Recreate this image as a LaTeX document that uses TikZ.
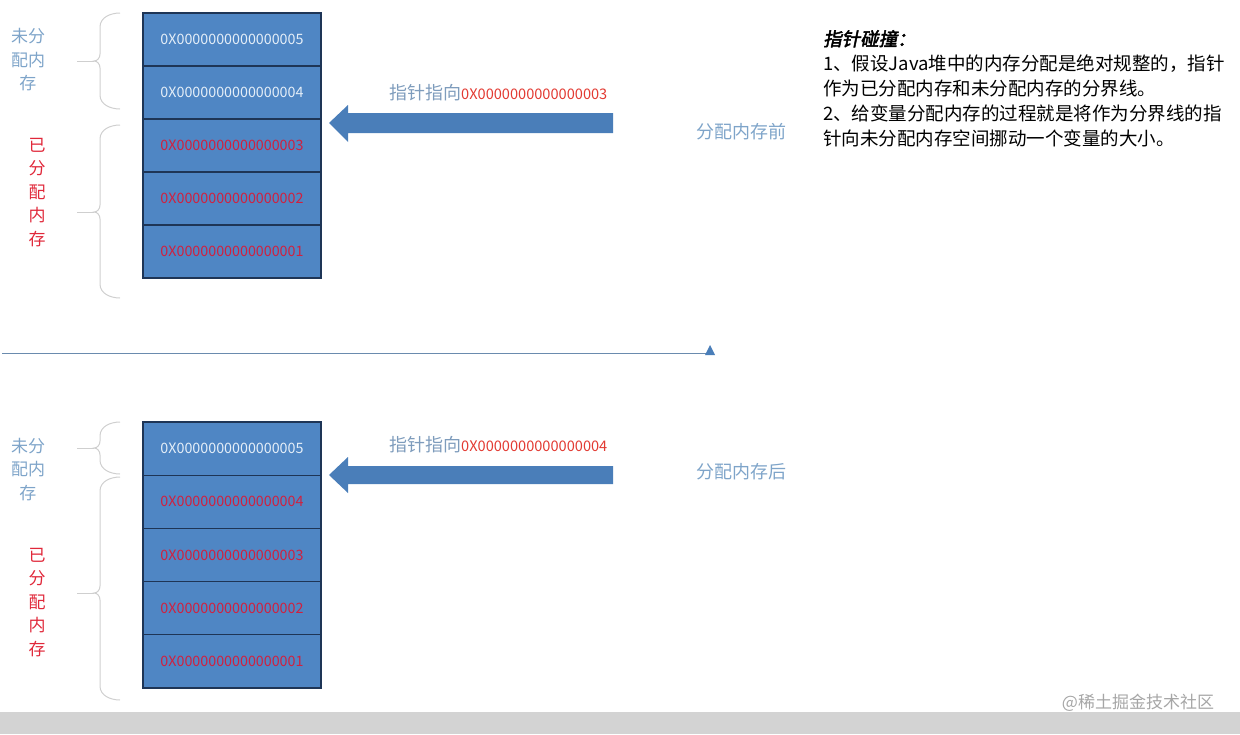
\documentclass[tikz,border=0pt]{standalone}
\usepackage{fontspec}
\setmainfont{Noto Sans CJK SC}[AutoFakeBold=2.5,AutoFakeSlant=0.2]
\usetikzlibrary{positioning}

\definecolor{cellfill}{HTML}{4F86C4}
\definecolor{cellrule}{HTML}{1E3556}
\definecolor{freehex}{HTML}{E4EEF8}
\definecolor{usedhex}{HTML}{D0203F}
\definecolor{usedlab}{HTML}{E0283A}
\definecolor{freelab}{HTML}{7EA4C9}
\definecolor{ptrblue}{HTML}{4A7EB9}
\definecolor{ptrtext}{HTML}{7E9CBC}
\definecolor{ptrhex}{HTML}{E23A32}
\definecolor{bracegray}{HTML}{CFCFCF}
\definecolor{divgray}{HTML}{6A8BAE}
\definecolor{bandgray}{HTML}{D3D3D3}

\tikzset{
  cell/.style={draw=cellrule,line width=1.1pt,fill=cellfill,minimum width=178pt,
    minimum height=53pt,inner sep=0pt,font=\fontsize{14.3}{15}\selectfont},
  brc/.style={draw=bracegray,line width=1pt},
  vlab/.style={align=center,inner sep=0pt,font=\fontsize{17}{23.5}\selectfont},
  state/.style={inner sep=0pt,text=freelab,font=\fontsize{18}{20}\selectfont},
  ptr/.style={fill=ptrblue}
}

% curly brace: top, tip, bottom
\newcommand{\membrace}[3]{%
  \draw[brc] (120,#1) to[out=180,in=90] (100,#1+14) -- (100,#2-7)
    to[out=-90,in=0] (94,#2) to[out=0,in=90] (100,#2+7) -- (100,#3-14)
    to[out=-90,in=180] (120,#3);
  \draw[brc] (77,#2) -- (94,#2);}

\newcommand{\ptrlabel}[1]{{\color{ptrtext}\fontsize{18}{20}\selectfont 指针指向}%
  {\color{ptrhex}\fontsize{14.6}{15}\selectfont 0X000000000000000#1}}

\begin{document}
\begin{tikzpicture}[x=1pt,y=-1pt]
  \useasboundingbox (0,0) rectangle (1240,734);

  % before
  \foreach \n/\c [count=\k from 0] in {5/freehex,4/freehex,3/usedhex,2/usedhex,1/usedhex}
    \node[cell,text=\c] (a\n) at (232,39.5+53*\k) {0X000000000000000\n};
  \membrace{13}{61}{109}
  \membrace{125}{212}{298}
  \node[vlab,text=freelab] (afree) at (28,60) {未分\\配内\\存};
  \node[vlab,text=usedlab] (aused) at (37,192.5) {已\\分\\配\\内\\存};
  \fill[ptr] (329,123) -- (348,105) -- (348,113) -- (613,113) -- (613,133)
    -- (348,133) -- (348,142) -- cycle;
  \node[anchor=west,inner sep=0pt] (aptr) at (389,93) {\ptrlabel{3}};
  \node[state] (before) at (741,132) {分配内存前};

  \node[anchor=north west,inner sep=0pt,align=left,font=\fontsize{18.5}{25}\selectfont]
    (note) at (823,30) {\textbf{\textit{指针碰撞：}}\\
    1、假设Java堆中的内存分配是绝对规整的，指针\\
    作为已分配内存和未分配内存的分界线。\\
    2、给变量分配内存的过程就是将作为分界线的指\\
    针向未分配内存空间挪动一个变量的大小。};

  \draw[divgray,line width=1pt] (2,353) -- (708,353);
  \fill[ptrblue] (710,345) -- (715,355) -- (705,355) -- cycle;

  % after
  \foreach \n/\c [count=\k from 0] in {5/freehex,4/usedhex,3/usedhex,2/usedhex,1/usedhex}
    \node[cell,minimum height=53.2pt,text=\c] (b\n) at (232,448.6+53.2*\k) {0X000000000000000\n};
  \membrace{422}{448}{474}
  \membrace{477}{593}{700}
  \node[vlab,text=freelab] (bfree) at (28,469.5) {未分\\配内\\存};
  \node[vlab,text=usedlab] (bused) at (37,602.5) {已\\分\\配\\内\\存};
  \fill[ptr] (329,475) -- (348,457) -- (348,466) -- (613,466) -- (613,484)
    -- (348,484) -- (348,493) -- cycle;
  \node[anchor=west,inner sep=0pt] (bptr) at (389,445) {\ptrlabel{4}};
  \node[state] (after) at (741,472) {分配内存后};

  \fill[bandgray] (0,712) rectangle (1240,734);
  \node[text=gray!70,font=\fontsize{17}{18}\selectfont] (mark) at (1138,703) {@稀土掘金技术社区};
\end{tikzpicture}
\end{document}
